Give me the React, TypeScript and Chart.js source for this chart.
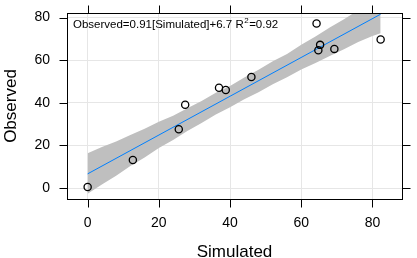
import React, { useEffect, useRef } from "react";
import { Chart, registerables } from "chart.js";

Chart.register(...registerables);

const simulated = [0, 12.7, 25.6, 27.4, 36.9, 38.8, 46.0, 64.3, 64.8, 65.3, 69.3, 82.3];
const observed = [0.5, 13.2, 27.6, 39.1, 47.1, 46.0, 52.1, 77.2, 64.7, 67.2, 65.3, 69.7];

const fitX = [0, 82.3];
const fitY = [6.7, 81.6];

const bandX = [0, 4, 8, 12, 16, 20, 24, 28, 32, 36, 40, 44, 48, 52, 56, 60, 64, 68, 72, 76, 80, 82.3];
const bandUpper = [16.4, 19.3, 21.9, 24.9, 27.8, 31.1, 33.9, 37.5, 40.9, 44.7, 47.9, 51.9, 55.5, 59.5, 62.9, 67.3, 71.1, 75.4, 79.2, 83.5, 87.5, 90.3];
const bandLower = [-2.6, 1.7, 5.8, 10.4, 14.4, 18.8, 22.6, 26.8, 30.5, 34.5, 37.9, 41.7, 45.0, 48.7, 52.0, 55.6, 58.7, 62.0, 65.1, 68.5, 71.4, 72.7];

const xTicks = [0, 20, 40, 60, 80];
const yTicks = [0, 20, 40, 60, 80];

const xLabel = "Simulated";
const yLabel = "Observed";
const eqMain = "Observed=0.91[Simulated]+6.7 R";
const eqSup = "2";
const eqTail = "=0.92";

const FONT = "'Liberation Sans', Arial, sans-serif";

const framePlugin = {
  id: "frame",
  afterDatasetsDraw(chart: any) {
    const { ctx, chartArea, scales } = chart;
    const { left, right, top, bottom } = chartArea;
    ctx.save();
    ctx.strokeStyle = "#000";
    ctx.lineWidth = 1;
    ctx.strokeRect(Math.round(left) + 0.5, Math.round(top) + 0.5, Math.round(right - left), Math.round(bottom - top));
    const tl = 8;
    ctx.beginPath();
    xTicks.forEach((v) => {
      const px = Math.round(scales.x.getPixelForValue(v)) + 0.5;
      ctx.moveTo(px, Math.round(bottom) + 0.5);
      ctx.lineTo(px, Math.round(bottom) + 0.5 + tl);
      ctx.moveTo(px, Math.round(top) + 0.5);
      ctx.lineTo(px, Math.round(top) + 0.5 - tl);
    });
    yTicks.forEach((v) => {
      const py = Math.round(scales.y.getPixelForValue(v)) + 0.5;
      ctx.moveTo(Math.round(left) + 0.5, py);
      ctx.lineTo(Math.round(left) + 0.5 - tl, py);
      ctx.moveTo(Math.round(right) + 0.5, py);
      ctx.lineTo(Math.round(right) + 0.5 + tl, py);
    });
    ctx.stroke();
    ctx.restore();
  },
  afterDraw(chart: any) {
    const { ctx, chartArea } = chart;
    ctx.save();
    ctx.fillStyle = "#000";
    ctx.textBaseline = "middle";
    ctx.textAlign = "left";
    ctx.font = `11.5px ${FONT}`;
    let x = chartArea.left + 6;
    const y = chartArea.top + 12;
    ctx.fillText(eqMain, x, y);
    x += ctx.measureText(eqMain).width;
    ctx.font = `8px ${FONT}`;
    ctx.fillText(eqSup, x + 0.5, y - 4);
    x += ctx.measureText(eqSup).width + 1;
    ctx.font = `11.5px ${FONT}`;
    ctx.fillText(eqTail, x, y);
    ctx.restore();
  },
};

export default function App() {
  const ref = useRef<HTMLCanvasElement | null>(null);
  useEffect(() => {
    if (!ref.current) return;
    const chart = new Chart(ref.current, {
      type: "scatter",
      data: {
        datasets: [
          {
            type: "line",
            data: bandX.map((x, i) => ({ x, y: bandUpper[i] })),
            borderWidth: 0,
            borderColor: "rgba(0,0,0,0)",
            backgroundColor: "#bfbfbf",
            pointRadius: 0,
            fill: "+1",
            order: 3,
          },
          {
            type: "line",
            data: bandX.map((x, i) => ({ x, y: bandLower[i] })),
            borderWidth: 0,
            borderColor: "rgba(0,0,0,0)",
            backgroundColor: "#bfbfbf",
            pointRadius: 0,
            fill: false,
            order: 3,
          },
          {
            type: "line",
            data: fitX.map((x, i) => ({ x, y: fitY[i] })),
            borderColor: "#0080ff",
            borderWidth: 1,
            pointRadius: 0,
            fill: false,
            order: 2,
          },
          {
            type: "scatter",
            data: simulated.map((x, i) => ({ x, y: observed[i] })),
            pointStyle: "circle",
            pointRadius: 3.6,
            borderWidth: 1.3,
            borderColor: "#000",
            backgroundColor: "rgba(0,0,0,0)",
            order: 1,
          },
        ],
      },
      options: {
        responsive: false,
        animation: false,
        layout: { padding: { top: 13, right: 15, left: 0, bottom: 0 } },
        plugins: { legend: { display: false }, tooltip: { enabled: false } },
        scales: {
          x: {
            type: "linear",
            min: -5.8,
            max: 88.3,
            afterBuildTicks: (s: any) => {
              s.ticks = xTicks.map((v) => ({ value: v }));
            },
            afterFit: (s: any) => {
              s.height = 59;
              s.paddingLeft = 0;
              s.paddingRight = 0;
            },
            grid: { color: "#e6e6e6", drawTicks: false },
            border: { display: false },
            ticks: {
              font: { size: 14, family: FONT },
              color: "#000",
              padding: 16,
              maxRotation: 0,
            },
            title: {
              display: true,
              text: xLabel,
              font: { size: 17, family: FONT },
              color: "#000",
              padding: { top: 0, bottom: -5 },
            },
          },
          y: {
            type: "linear",
            min: -5.1,
            max: 82.15,
            afterBuildTicks: (s: any) => {
              s.ticks = yTicks.map((v) => ({ value: v }));
            },
            afterFit: (s: any) => {
              s.width = 67;
              s.paddingTop = 0;
              s.paddingBottom = 0;
            },
            grid: { color: "#e6e6e6", drawTicks: false },
            border: { display: false },
            ticks: {
              font: { size: 14, family: FONT },
              color: "#000",
              padding: 17,
            },
            title: {
              display: true,
              text: yLabel,
              font: { size: 17, family: FONT },
              color: "#000",
              padding: { top: 1, bottom: 0 },
            },
          },
        },
      },
      plugins: [framePlugin],
    } as any);
    return () => chart.destroy();
  }, []);
  return (
    <div style={{ position: "fixed", left: 0, top: 0, width: 417, height: 258, background: "#fff" }}>
      <canvas ref={ref} width={417} height={258} style={{ display: "block" }} />
    </div>
  );
}
